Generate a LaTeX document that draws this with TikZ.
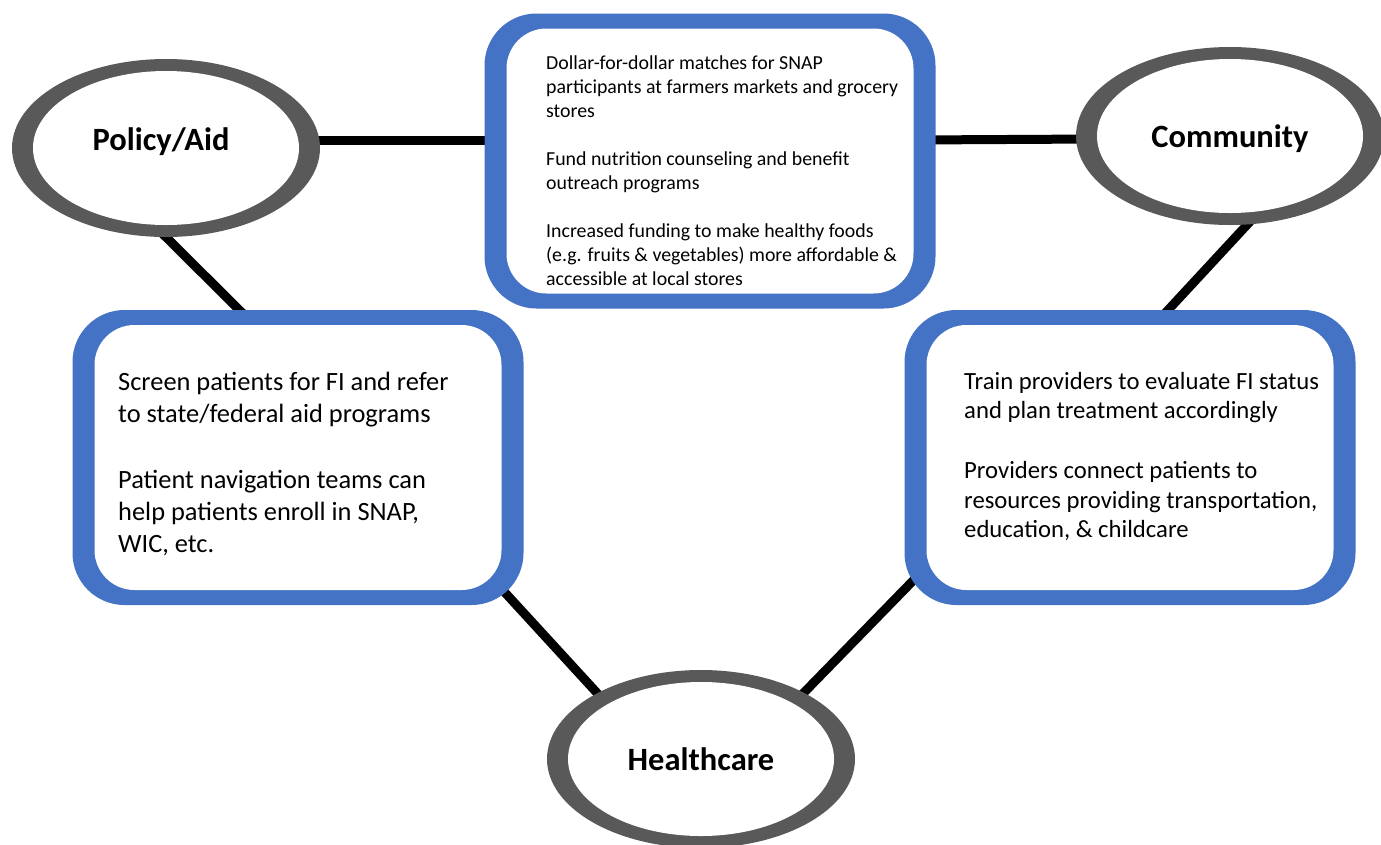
\documentclass[tikz,border=0pt]{standalone}
\usepackage{fontspec}
\setmainfont{Carlito}
\usetikzlibrary{shapes.geometric,calc,backgrounds}
\definecolor{hubgray}{HTML}{595959}
\definecolor{panelblue}{HTML}{4472C4}
\tikzset{
hub/.style={ellipse,fill=hubgray,minimum width=308pt,minimum height=178pt,inner sep=0pt,
  font=\bfseries\fontsize{32.5}{39}\selectfont,text height=23pt,text depth=0pt,
  path picture={\fill[white] (path picture bounding box.center) ellipse [x radius=133pt,y radius=77pt];}},
panel/.style={rectangle,rounded corners=52pt,fill=panelblue,minimum width=451pt,minimum height=295pt,
  path picture={\fill[white,rounded corners=40pt] ([shift={(22pt,15pt)}]path picture bounding box.south west)
    rectangle ([shift={(-22pt,-15pt)}]path picture bounding box.north east);}},
small text/.style={anchor=north west,inner sep=0pt,align=left,font=\fontsize{19.85}{24}\selectfont},
left text/.style={anchor=north west,inner sep=0pt,align=left,font=\fontsize{26.4}{31.7}\selectfont},
right text/.style={anchor=north west,inner sep=0pt,align=left,font=\fontsize{24.7}{29.6}\selectfont},
link/.style={line width=9pt},
}
\begin{document}
\begin{tikzpicture}[x=1pt,y=-1pt]
\useasboundingbox (0,0) rectangle (1381,844);
% the three sectors
\node[hub] (polaid) at (166,148) {\hspace*{-10pt}\raisebox{9pt}{Policy/Aid}};
\node[hub] (comm) at (1230,136) {Community};
\node[hub] (health) at (701,759) {Healthcare};

% the three interventions
\node[panel] (topbox) at (710,161) {};
\node[panel] (leftbox) at (298,457.5) {};
\node[panel] (rightbox) at (1130,457.5) {};

\node[small text] (toptext) at (546,56) {Dollar-for-dollar matches for SNAP\\
  participants at farmers markets and grocery\\stores\\[24pt]
  Fund nutrition counseling and benefit\\outreach programs\\[24pt]
  Increased funding to make healthy foods\\(e.g. fruits \& vegetables) more affordable \&\\
  accessible at local stores};
\node[left text] (lefttext) at (118,372) {Screen patients for FI and refer\\to state/federal aid programs\\[35pt]
  Patient navigation teams can\\help patients enroll in SNAP,\\WIC, etc.};
\node[right text] (righttext) at (964,372) {Train providers to evaluate FI status\\and plan treatment accordingly\\[30pt]
  Providers connect patients to\\resources providing transportation,\\education, \& childcare};

\begin{scope}[on background layer]
\draw[link] ($(polaid.east)+(-20,-8)$) -- ($(topbox.west)+(20,-21)$);
\draw[link] ($(topbox.east)+(-20,-21)$) -- ($(comm.west)+(20,3)$);
\draw[link] ($(polaid.south)+(-10,-10)$) -- ($(leftbox.north west)+(185,18)$);
\draw[link] ($(comm.south)+(25,-9)$) -- ($(rightbox.north west)+(251,14)$);
\draw[link] ($(leftbox.south east)+(-53,-50)$) -- ($(health)+(-81,-41)$);
\draw[link] ($(rightbox.south west)+(56,-73)$) -- ($(health)+(85,-48)$);
\end{scope}
\end{tikzpicture}
\end{document}
